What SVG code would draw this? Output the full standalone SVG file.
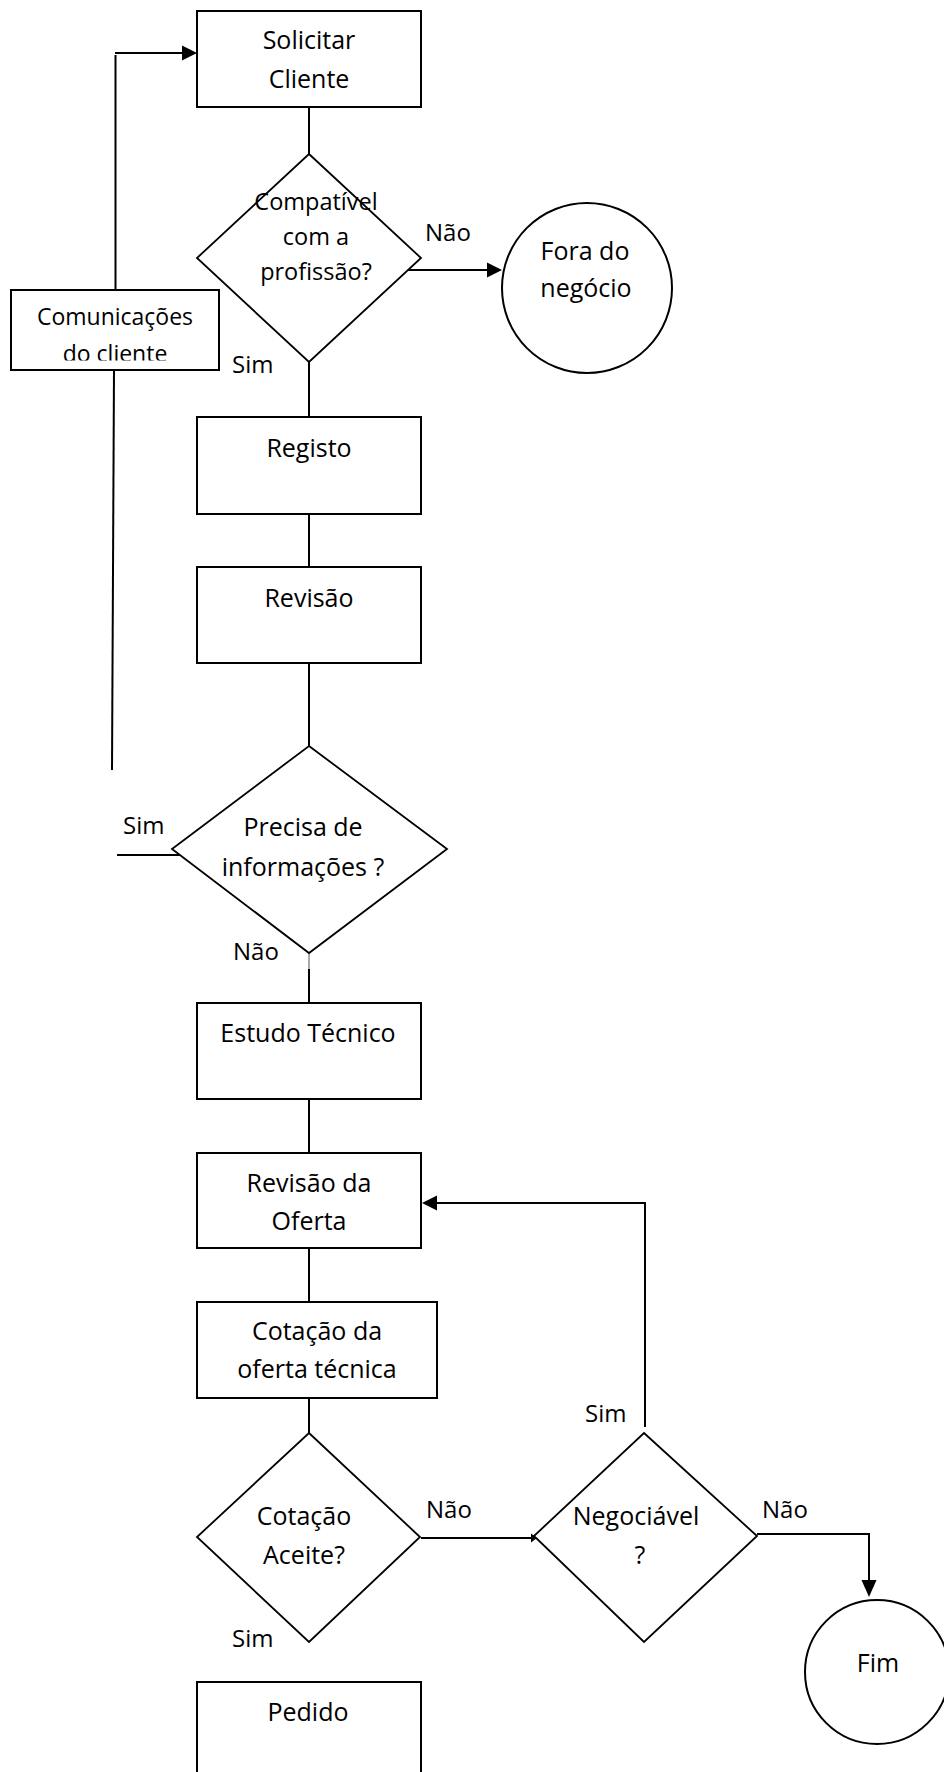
<svg xmlns="http://www.w3.org/2000/svg" width="944" height="1772" viewBox="0 0 944 1772">
  <style>
    .box { fill: #ffffff; stroke: #000000; stroke-width: 2; }
    .dec { fill: #ffffff; stroke: #000000; stroke-width: 1.8; }
    .wire { fill: none; stroke: #000000; stroke-width: 2; }
    .thin { fill: none; stroke: #555555; stroke-width: 1; }
    .head { fill: #000000; stroke: none; }
    text { font-family: "Open Sans", "Noto Sans", "Liberation Sans", sans-serif; font-size: 25px; fill: #000000; }
    .mid { text-anchor: middle; }
    .lbl { font-size: 24px; }
    .sm { font-size: 23.5px; }
  </style>
  <defs>
    <clipPath id="comClip">
      <rect x="11" y="290" width="209" height="70.5"/>
    </clipPath>
  </defs>
  <rect x="0" y="0" width="944" height="1772" fill="#ffffff"/>

  <!-- connectors -->
  <g id="connectors">
    <!-- feedback loop from the client back to the request -->
    <line class="wire" x1="115.5" y1="55" x2="115.5" y2="290"/>
    <line class="wire" x1="115" y1="53" x2="184" y2="53"/>
    <polygon class="head" points="197,53 182,45.5 182,60.5"/>
    <line class="wire" x1="114" y1="370" x2="112" y2="770"/>
    <line class="wire" x1="117" y1="855" x2="197" y2="855"/>

    <!-- main vertical flow -->
    <line class="wire" x1="309" y1="107" x2="309" y2="154"/>
    <line class="wire" x1="309" y1="362" x2="309" y2="417"/>
    <line class="wire" x1="309" y1="514" x2="309" y2="567"/>
    <line class="wire" x1="309" y1="663" x2="309" y2="746"/>
    <line class="thin" x1="309" y1="953" x2="309" y2="969"/>
    <line class="wire" x1="309" y1="969" x2="309" y2="1003"/>
    <line class="wire" x1="309" y1="1099" x2="309" y2="1153"/>
    <line class="wire" x1="309" y1="1248" x2="309" y2="1302"/>
    <line class="wire" x1="309" y1="1398" x2="309" y2="1433"/>

    <!-- out of business branch -->
    <line class="wire" x1="405" y1="270" x2="489" y2="270"/>
    <polygon class="head" points="502,270 487,262.5 487,277.5"/>

    <!-- negotiation back to offer review -->
    <polyline class="wire" points="645,1427 645,1203 434,1203"/>
    <polygon class="head" points="422,1203 437,1195.5 437,1210.5"/>

    <!-- rejected quote to negotiation -->
    <line class="wire" x1="421" y1="1538" x2="533" y2="1538"/>
    <polygon class="head" points="537,1538 531,1533.5 531,1542.5"/>

    <!-- not negotiable to end -->
    <polyline class="wire" points="757,1534 869,1534 869,1584"/>
    <polygon class="head" points="869,1597 861.5,1580 876.5,1580"/>
  </g>

  <g id="node-solicitar">
    <rect class="box" x="197" y="11" width="224" height="96"/>
    <text class="mid" x="309" y="49">Solicitar</text>
    <text class="mid" x="309" y="88">Cliente</text>
  </g>

  <g id="node-compativel">
    <polygon class="dec" points="309,154 421,258 309,362 197,258"/>
    <text class="mid sm" x="316" y="210">Compatível</text>
    <text class="mid sm" x="316" y="245">com a</text>
    <text class="mid sm" x="316" y="280">profissão?</text>
  </g>

  <g id="node-fora">
    <circle class="box" cx="587" cy="288" r="85"/>
    <text class="mid" x="585" y="260">Fora do</text>
    <text class="mid" x="586" y="297">negócio</text>
  </g>

  <g id="node-comunicacoes">
    <rect class="box" x="11" y="290" width="208" height="80"/>
    <g clip-path="url(#comClip)">
      <text class="mid" x="115" y="325" style="font-size:23px">Comunicações</text>
      <text class="mid" x="115" y="361.5" style="font-size:23px">do cliente</text>
    </g>
  </g>

  <g id="node-registo">
    <rect class="box" x="197" y="417" width="224" height="97"/>
    <text class="mid" x="309" y="457">Registo</text>
  </g>

  <g id="node-revisao">
    <rect class="box" x="197" y="567" width="224" height="96"/>
    <text class="mid" x="309" y="607">Revisão</text>
  </g>

  <g id="node-precisa">
    <polygon class="dec" points="309,746 447,849 309,953 172,849"/>
    <text class="mid" x="303" y="836">Precisa de</text>
    <text class="mid" x="303" y="876">informações ?</text>
  </g>

  <g id="node-estudo">
    <rect class="box" x="197" y="1003" width="224" height="96"/>
    <text class="mid" x="308" y="1042">Estudo Técnico</text>
  </g>

  <g id="node-revisao-oferta">
    <rect class="box" x="197" y="1153" width="224" height="95"/>
    <text class="mid" x="309" y="1192">Revisão da</text>
    <text class="mid" x="309" y="1230">Oferta</text>
  </g>

  <g id="node-cotacao-oferta">
    <rect class="box" x="197" y="1302" width="240" height="96"/>
    <text class="mid" x="317" y="1340">Cotação da</text>
    <text class="mid" x="317" y="1378">oferta técnica</text>
  </g>

  <g id="node-cotacao-aceite">
    <polygon class="dec" points="309,1433 420,1537 309,1642 197,1537"/>
    <text class="mid" x="304" y="1525">Cotação</text>
    <text class="mid" x="304" y="1564">Aceite?</text>
  </g>

  <g id="node-negociavel">
    <polygon class="dec" points="644,1433 757,1536 644,1642 534,1536"/>
    <text class="mid" x="636" y="1525">Negociável</text>
    <text class="mid" x="640" y="1564">?</text>
  </g>

  <g id="node-fim">
    <circle class="box" cx="877" cy="1672" r="72"/>
    <text class="mid" x="878" y="1672">Fim</text>
  </g>

  <g id="node-pedido">
    <rect class="box" x="197" y="1682" width="224" height="110"/>
    <text class="mid" x="308" y="1721">Pedido</text>
  </g>

  <!-- branch labels -->
  <g id="labels">
    <text class="lbl" x="425" y="241">Não</text>
    <text class="lbl" x="232" y="373">Sim</text>
    <text class="lbl" x="123" y="834">Sim</text>
    <text class="lbl" x="233" y="960">Não</text>
    <text class="lbl" x="585" y="1422">Sim</text>
    <text class="lbl" x="426" y="1518">Não</text>
    <text class="lbl" x="762" y="1518">Não</text>
    <text class="lbl" x="232" y="1647">Sim</text>
  </g>
</svg>
